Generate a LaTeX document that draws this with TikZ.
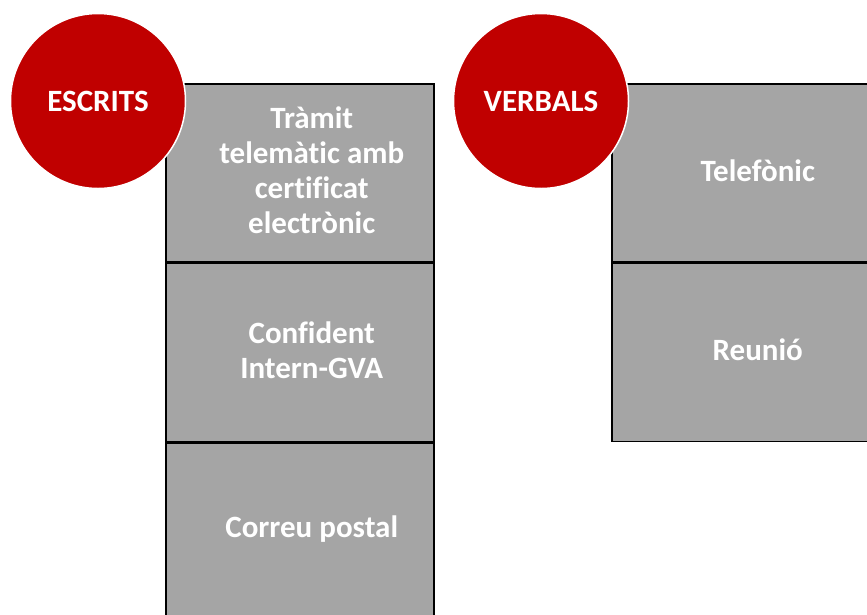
\documentclass[tikz,border=0pt]{standalone}
\usepackage{fontspec}
\setmainfont{Carlito}[Ligatures=NoCommon]
\usepackage{tikz}
\usetikzlibrary{positioning}
\definecolor{vermell}{HTML}{C00000}
\definecolor{gris}{HTML}{A5A5A5}

\begin{document}
\begin{tikzpicture}[x=1pt,y=-1pt,
		caixa/.style={draw=black, line width=1.5pt, fill=gris, rectangle, minimum width=268pt, minimum height=178pt, inner sep=0pt},
		text blanc/.style={text=white, font=\fontsize{31}{35}\selectfont\bfseries, align=center},
		cercle/.style={circle, fill=vermell, draw=white, line width=1.5pt, minimum size=175pt, inner sep=0pt}]
			\useasboundingbox (0,0) rectangle (867,614);
			\clip (0,0) rectangle (867,614);
			\node [caixa, anchor=north west] (e1) at (165,83) {};
			\node [caixa, below=0pt of e1] (e2) {};
			\node [caixa, below=0pt of e2] (e3) {};
			\node [caixa, anchor=north west] (v1) at (611,83) {};
			\node [caixa, below=0pt of v1] (v2) {};
			\node [text blanc] (te1) at ([xshift=12pt,yshift=2.5pt]e1.center) {Tràmit\\telemàtic amb\\certificat\\electrònic};
			\node [text blanc] (te2) at ([xshift=12pt,yshift=2.5pt]e2.center) {Confident\\Intern-GVA};
			\node [text blanc] (te3) at ([xshift=12pt,yshift=2.5pt]e3.center) {Correu postal};
			\node [text blanc] (tv1) at ([xshift=12pt,yshift=2.5pt]v1.center) {Telefònic};
			\node [text blanc] (tv2) at ([xshift=12pt,yshift=2.5pt]v2.center) {Reunió};
			\node [cercle, text blanc] (escrits) at (98,101) {ESCRITS};
			\node [cercle, text blanc] (verbals) at (541,101) {VERBALS};
		\end{tikzpicture}
\end{document}
